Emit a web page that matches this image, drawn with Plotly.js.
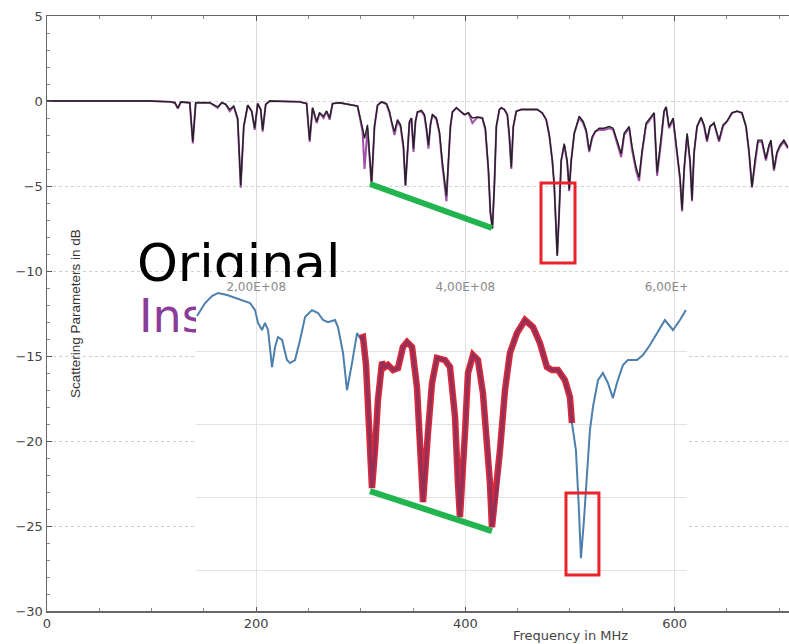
<!DOCTYPE html>
<html><head><meta charset="utf-8">
<script src="https://cdn.plot.ly/plotly-3.0.1.min.js"></script>
<style>html,body{margin:0;padding:0;background:#fff}#chart{width:789px;height:644px}</style>
</head><body><div id="chart"></div>
<script>
// ---- main sweep (MHz, dB) ----
const freqMHz = [0, 98.3, 117.4, 122.2, 125.1, 127.9, 136.5, 139.4, 142.2, 155.6, 163.2, 167.1, 170.9, 174.7, 178.5, 182.3, 185.2, 188.1, 191.9, 195.7, 198.6, 201.4, 204.3, 206.2, 209.1, 212.9, 241.5, 248.2, 251.1, 253.9, 257.8, 260.6, 264.4, 267.3, 270.2, 273.0, 279.7, 289.3, 296.9, 301.7, 303.6, 306.4, 308.4, 310.3, 313.1, 316.0, 319.8, 324.6, 327.4, 329.4, 332.2, 335.1, 338.0, 340.8, 342.7, 344.6, 346.5, 348.4, 350.4, 352.3, 354.2, 358.0, 360.9, 362.8, 364.7, 366.6, 368.5, 372.3, 375.2, 378.0, 379.9, 381.9, 383.8, 385.7, 387.6, 391.4, 395.2, 399.0, 402.9, 406.7, 411.5, 416.2, 419.1, 422.0, 423.9, 425.8, 427.7, 429.6, 432.5, 434.4, 437.2, 440.1, 442.0, 443.9, 445.8, 448.7, 453.5, 461.1, 468.7, 473.5, 477.3, 480.2, 483.1, 485.0, 486.9, 487.8, 489.7, 491.6, 494.5, 497.3, 499.3, 501.2, 504.1, 506.9, 508.8, 512.6, 515.5, 518.4, 521.2, 524.1, 527.9, 532.7, 537.5, 541.3, 545.1, 549.0, 551.8, 556.6, 559.4, 563.2, 566.1, 569.0, 572.8, 576.6, 580.4, 583.3, 587.1, 590.0, 591.9, 594.7, 598.6, 602.4, 605.2, 607.2, 609.1, 612.0, 614.8, 616.7, 618.6, 621.5, 625.3, 628.2, 631.0, 633.9, 637.7, 642.5, 646.3, 650.1, 654.9, 659.7, 664.4, 668.3, 671.1, 674.0, 676.8, 679.7, 683.5, 687.3, 690.2, 692.1, 695.0, 697.9, 700.7, 704.5, 708.3];
const originalDb = [0, 0, -0.05, -0.1, -0.41, -0.06, -0.1, -2.4, -0.1, -0.1, -0.35, -0.1, -0.2, -0.5, -0.3, -1.0, -4.95, -1.5, -0.25, -0.6, -1.6, -0.15, -0.5, -1.7, -0.2, 0, -0.05, -0.15, -2.3, -0.4, -1.2, -0.7, -0.9, -0.6, -1.0, -0.15, -0.1, -0.2, -0.3, -1.6, -2.2, -1.4, -3.2, -4.8, -1.5, -0.25, -0.05, -0.15, -0.6, -1.2, -1.8, -1.1, -1.4, -2.6, -4.95, -3.0, -1.2, -1.0, -2.8, -1.2, -0.65, -0.55, -0.8, -1.6, -2.6, -1.4, -0.8, -1.0, -1.8, -3.6, -4.5, -5.6, -3.5, -1.5, -0.65, -0.4, -0.6, -0.8, -0.7, -1.0, -0.95, -1.0, -1.6, -4.0, -6.5, -7.5, -5.0, -1.5, -0.5, -0.4, -0.5, -0.8, -2.0, -3.9, -1.5, -0.6, -0.5, -0.5, -0.5, -0.7, -1.1, -2.0, -3.5, -5.0, -7.5, -9.1, -6.5, -3.5, -2.5, -3.5, -5.2, -3.5, -1.9, -1.2, -0.9, -1.2, -1.7, -2.9, -2.1, -1.8, -1.6, -1.6, -1.5, -1.6, -2.3, -3.1, -1.9, -1.5, -2.7, -3.9, -4.5, -2.9, -1.3, -1.0, -0.7, -4.2, -2.3, -0.6, -0.35, -1.5, -1.0, -2.9, -4.5, -6.4, -4.0, -1.9, -3.5, -5.8, -3.0, -1.5, -0.95, -1.4, -2.3, -1.5, -1.3, -2.3, -1.4, -1.2, -0.7, -0.6, -0.7, -1.5, -2.9, -5.05, -3.5, -2.3, -2.3, -3.4, -2.6, -2.3, -4.0, -3.0, -2.6, -2.3, -2.7];
const instDb = [0, 0, -0.05, -0.1, -0.45, -0.06, -0.1, -2.5, -0.1, -0.1, -0.4, -0.1, -0.2, -0.6, -0.3, -1.1, -5.1, -1.5, -0.25, -0.6, -1.7, -0.15, -0.5, -1.8, -0.2, 0, -0.05, -0.15, -2.4, -0.4, -1.3, -0.7, -1.0, -0.6, -1.1, -0.15, -0.1, -0.2, -0.3, -1.8, -4.0, -1.6, -3.6, -5.0, -1.5, -0.25, -0.05, -0.2, -0.7, -1.3, -2.0, -1.2, -1.5, -2.8, -5.0, -3.1, -1.3, -1.0, -3.0, -1.2, -0.65, -0.6, -0.9, -1.7, -2.8, -1.4, -0.8, -1.1, -1.9, -3.8, -4.8, -5.9, -3.6, -1.5, -0.65, -0.4, -0.6, -0.8, -0.7, -1.3, -0.95, -1.0, -1.7, -4.1, -6.6, -7.5, -5.0, -1.5, -0.5, -0.4, -0.5, -0.8, -2.1, -4.0, -1.5, -0.6, -0.5, -0.5, -0.5, -0.7, -1.1, -2.0, -3.5, -5.0, -7.5, -9.1, -6.5, -3.5, -2.6, -3.6, -5.3, -3.5, -1.9, -1.3, -1.0, -1.3, -1.8, -3.0, -2.2, -1.8, -1.7, -1.7, -1.6, -1.7, -2.5, -3.3, -2.0, -1.6, -2.9, -4.1, -4.7, -3.0, -1.4, -1.1, -0.7, -4.4, -2.4, -0.6, -0.35, -1.6, -1.1, -3.0, -4.6, -6.5, -4.1, -2.0, -3.6, -5.9, -3.1, -1.5, -1.0, -1.5, -2.4, -1.5, -1.3, -2.4, -1.5, -1.2, -0.7, -0.6, -0.7, -1.5, -3.0, -5.1, -3.6, -2.4, -2.4, -3.5, -2.7, -2.4, -4.1, -3.1, -2.7, -2.4, -2.8];

// ---- inset sweep (MHz, dB) ----
const insetFreqMHz = [143.4, 151.1, 157.7, 163.5, 172.1, 184.5, 194.1, 198.9, 201.7, 205.5, 208.4, 211.3, 213.2, 215.1, 218.0, 220.8, 224.7, 229.4, 232.3, 237.1, 241.9, 246.7, 253.3, 259.1, 263.9, 268.6, 275.3, 278.2, 283.0, 286.8, 291.6, 296.4, 299.2, 302.1, 305.0, 306.9, 308.8, 310.7, 313.6, 316.4, 320.3, 323.1, 326.0, 330.8, 335.6, 340.3, 344.2, 349.0, 353.7, 356.6, 359.5, 364.2, 368.1, 372.8, 380.5, 385.3, 390.1, 392.9, 394.8, 399.6, 402.5, 407.3, 412.0, 416.8, 420.7, 423.5, 425.4, 430.2, 433.1, 437.9, 442.6, 449.3, 457.0, 464.6, 471.3, 478.0, 482.8, 488.5, 495.2, 500.0, 501.9, 505.7, 508.6, 510.5, 513.4, 516.3, 519.1, 522.0, 526.8, 531.5, 536.3, 541.1, 544.9, 550.7, 555.4, 564.1, 569.8, 576.5, 583.2, 590.8, 598.5, 605.2, 610.9];
const insetDb = [-12.60, -11.71, -11.23, -11.02, -11.16, -11.50, -11.71, -12.19, -13.07, -13.55, -13.07, -13.55, -14.92, -16.08, -14.71, -14.03, -14.23, -15.60, -15.81, -15.60, -14.23, -12.66, -12.19, -12.39, -12.87, -13.01, -12.87, -13.35, -15.12, -17.65, -15.81, -13.76, -14.10, -14.03, -15.94, -18.33, -21.75, -24.34, -21.75, -18.33, -15.74, -16.08, -15.94, -16.28, -16.15, -14.71, -14.37, -14.71, -17.45, -21.75, -25.30, -20.59, -17.17, -15.46, -15.60, -16.08, -19.49, -24.00, -26.33, -20.59, -16.49, -15.26, -15.60, -17.86, -21.07, -24.00, -27.01, -24.28, -21.75, -17.65, -15.12, -13.76, -12.87, -13.35, -14.44, -16.08, -16.28, -16.28, -16.97, -18.13, -19.90, -21.75, -25.85, -29.13, -26.53, -23.11, -20.38, -18.81, -16.97, -16.49, -17.17, -18.20, -17.17, -15.94, -15.60, -15.60, -15.26, -14.58, -13.76, -12.87, -13.55, -12.87, -12.19];
const highlightRangeMHz = [299, 502];

// ---- annotation marks ----
const trendFreqMHz = [308.8, 425.4];
const trendMainDb = [-4.88, -7.47];
const trendInsetDb = [-24.55, -27.28];
const boxMainFreq = [472.3, 504.8];
const boxMainDb = [-4.82, -9.53];
const boxInsetFreq = [496.2, 527.7];
const boxInsetDb = [-24.69, -30.29];

// ---- labels / ticks ----
const seriesLabels = ['Original', 'Ins'];
const mainXTicks = [0, 200, 400, 600];
const insetTickVals = [200, 400, 600];
const insetTickText = ['2,00E+08', '4,00E+08', '6,00E+08'];

const hiX = [], hiY = [];
insetFreqMHz.forEach((f, i) => { if (f >= highlightRangeMHz[0] && f <= highlightRangeMHz[1]) { hiX.push(f); hiY.push(insetDb[i]); } });

const traces = [
  {x: freqMHz, y: instDb, mode: 'lines', line: {color: '#a050a8', width: 2}, xaxis: 'x', yaxis: 'y', hoverinfo: 'skip'},
  {x: freqMHz, y: originalDb, mode: 'lines', line: {color: '#222222', width: 1.4}, xaxis: 'x', yaxis: 'y', hoverinfo: 'skip'},
  {x: trendFreqMHz, y: trendMainDb, mode: 'lines', line: {color: '#22b54f', width: 6}, xaxis: 'x', yaxis: 'y'},
  {x: [86], y: [-9.85], mode: 'text', text: [seriesLabels[0]], textposition: 'middle right',
   textfont: {family: 'DejaVu Sans', size: 52, color: '#000'}, xaxis: 'x', yaxis: 'y'},
  {x: [88], y: [-12.9], mode: 'text', text: [seriesLabels[1]], textposition: 'middle right',
   textfont: {family: 'DejaVu Sans', size: 46, color: '#8a3d98'}, xaxis: 'x', yaxis: 'y'},
  // inset
  {x: insetFreqMHz, y: insetDb, mode: 'lines', line: {color: '#4d7fae', width: 2}, xaxis: 'x2', yaxis: 'y2'},
  {x: hiX, y: hiY, mode: 'lines', line: {color: '#d62a3c', width: 6.5}, xaxis: 'x2', yaxis: 'y2'},
  {x: hiX, y: hiY, mode: 'lines', line: {color: '#933058', width: 3}, xaxis: 'x2', yaxis: 'y2'},
  {x: trendFreqMHz, y: trendInsetDb, mode: 'lines', line: {color: '#22b54f', width: 6}, xaxis: 'x2', yaxis: 'y2'},
  {x: insetTickVals, y: insetTickVals.map(() => -10.68), mode: 'text', text: insetTickText, textposition: 'middle center',
   textfont: {family: 'DejaVu Sans', size: 12, color: '#8a8a8a'}, xaxis: 'x2', yaxis: 'y2'}
];

const tickFont = {family: 'DejaVu Sans', size: 13, color: '#444'};
const layout = {
  width: 789, height: 644,
  margin: {l: 47, r: 0, t: 16, b: 33},
  paper_bgcolor: '#fff', plot_bgcolor: '#fff',
  showlegend: false,
  xaxis: {range: [0, 709.4], tickvals: mainXTicks, ticks: 'inside', ticklen: 5, tickcolor: '#555',
    showline: true, linecolor: '#666', linewidth: 1.5, mirror: 'ticks', showgrid: true, gridcolor: '#d9d9d9',
    zeroline: false, tickfont: tickFont,
    minor: {dtick: 50, ticks: 'inside', ticklen: 3, tickcolor: '#888', showgrid: false}},
  yaxis: {range: [-30, 5], dtick: 5, ticks: 'inside', ticklen: 5, tickcolor: '#555',
    showline: true, linecolor: '#666', linewidth: 1.5, mirror: false, showgrid: true, gridcolor: '#cfcfcf',
    griddash: 'dot', zeroline: false, tickfont: tickFont,
    minor: {dtick: 1, ticks: 'inside', ticklen: 3, tickcolor: '#888', showgrid: false}},
  xaxis2: {domain: [0.2008, 0.8625], anchor: 'y2', range: [142.4, 611.9], tickvals: insetTickVals,
    showticklabels: false, ticks: '', showline: false, zeroline: false, showgrid: true, gridcolor: '#e2e2e2'},
  yaxis2: {domain: [0.0067, 0.5613], anchor: 'x2', range: [-32.47, -9.932], tick0: -10, dtick: 5,
    showticklabels: false, ticks: '', showline: false, zeroline: false, showgrid: true, gridcolor: '#e2e2e2'},
  shapes: [
    {type: 'rect', xref: 'x', yref: 'y', x0: boxMainFreq[0], x1: boxMainFreq[1], y0: boxMainDb[0], y1: boxMainDb[1],
     line: {color: '#e8232a', width: 3}},
    {type: 'rect', xref: 'x2', yref: 'y2', x0: boxInsetFreq[0], x1: boxInsetFreq[1], y0: boxInsetDb[0], y1: boxInsetDb[1],
     line: {color: '#e8232a', width: 3}}
  ],
  annotations: [
    {text: 'Scattering Parameters in dB', xref: 'paper', yref: 'paper', x: 0.0377, y: 0.5008, textangle: -90,
     xanchor: 'center', yanchor: 'middle',
     showarrow: false, font: {family: 'Liberation Sans', size: 13.5, color: '#333'}},
    {text: 'Frequency in MHz', xref: 'paper', yref: 'paper', x: 0.7049, y: -0.042, xanchor: 'center', yanchor: 'middle',
     showarrow: false, font: {family: 'DejaVu Sans', size: 13, color: '#444'}}
  ]
};

Plotly.newPlot('chart', traces, layout, {staticPlot: true, displayModeBar: false});
</script>
</body></html>
